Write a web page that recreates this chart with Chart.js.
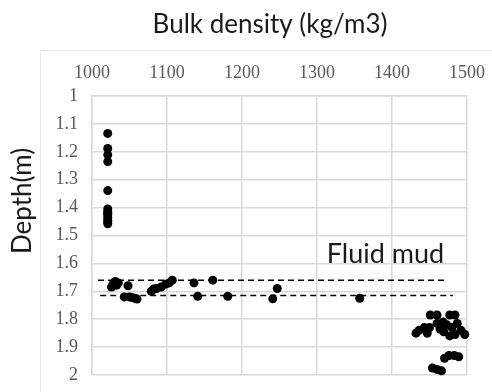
<!DOCTYPE html>
<html>
<head>
<meta charset="utf-8">
<script src="https://cdn.jsdelivr.net/npm/chart.js@4/dist/chart.umd.min.js"></script>
<style>
html,body{margin:0;padding:0;background:#fff;}
#c{display:block;}
</style>
</head>
<body>
<canvas id="c" width="492" height="392"></canvas>
<script>
// ---- data ----
const chartTitle = 'Bulk density (kg/m3)';
const yTitle = 'Depth(m)';
const annotationText = 'Fluid mud';
const densityTicks = ['1000','1100','1200','1300','1400','1500'];
const depthTicks = ['1','1.1','1.2','1.3','1.4','1.5','1.6','1.7','1.8','1.9','2'];

const densities = [
  1021,1021,1021,1021,1021,1021,1021,1021,1021,1021,1021,1021,1021,
  1026,1031,1035,1028,1033,1048,1043,1050,1053,1057,1060,
  1079,1082,1086,1092,1098,1103,1107,
  1136,1161,1141,1181,1241,1247,1357,
  1451,1460,1477,1484,
  1460,1468,1473,1487,
  1436,1443,1450,1464,1480,1492,
  1432,1447,1469,1477,1484,1497,
  1470,1476,1483,1489,
  1454,1460,1466
];
const depths = [
  1.134,1.188,1.211,1.235,1.339,1.405,1.415,1.425,1.435,1.445,1.452,1.458,1.420,
  1.685,1.665,1.670,1.675,1.678,1.680,1.720,1.720,1.722,1.725,1.728,
  1.700,1.692,1.690,1.685,1.675,1.670,1.660,
  1.670,1.660,1.718,1.718,1.727,1.690,1.725,
  1.785,1.785,1.785,1.785,
  1.815,1.810,1.820,1.815,
  1.840,1.830,1.830,1.835,1.830,1.840,
  1.850,1.850,1.845,1.860,1.855,1.855,
  1.940,1.930,1.930,1.935,
  1.975,1.980,1.985
];
const fluidMudTopX = [1008, 1473];
const fluidMudTopY = [1.66, 1.66];
const fluidMudBottomX = [1011, 1481];
const fluidMudBottomY = [1.715, 1.715];
const labelPos = {x: 1313, y: 1.6};

// ---- build ----
const zip = (xs, ys) => xs.map((x, i) => ({x: x, y: ys[i]}));
const gridColor = '#d9d9d9';
const tickFont = {family: 'Liberation Serif', size: 18};
const sansFamily = 'Lato';

const textPlugin = {
  id: 'texts',
  afterDraw(chart) {
    const ctx = chart.ctx;
    ctx.save();
    ctx.fillStyle = '#1a1a1a';
    ctx.font = '26px ' + sansFamily;
    ctx.textAlign = 'center';
    ctx.textBaseline = 'alphabetic';
    ctx.fillText(chartTitle, 270, 33);
    ctx.save();
    ctx.translate(31, 201);
    ctx.rotate(-Math.PI / 2);
    ctx.fillText(yTitle, 0, 0);
    ctx.restore();
    const xs = chart.scales.x, ys = chart.scales.y;
    ctx.font = '27px ' + sansFamily;
    ctx.textAlign = 'left';
    ctx.fillText(annotationText, xs.getPixelForValue(labelPos.x), ys.getPixelForValue(labelPos.y));
    ctx.restore();
  },
  beforeDraw(chart) {
    const ctx = chart.ctx;
    ctx.save();
    ctx.strokeStyle = '#e6e6e6';
    ctx.lineWidth = 1;
    ctx.beginPath();
    ctx.moveTo(40.5, 392);
    ctx.lineTo(40.5, 50.5);
    ctx.lineTo(492, 50.5);
    ctx.stroke();
    ctx.restore();
  }
};

new Chart(document.getElementById('c'), {
  type: 'scatter',
  data: {
    datasets: [
      {
        data: zip(densities, depths),
        pointRadius: 4.5,
        pointBackgroundColor: '#000',
        pointBorderWidth: 0,
        borderColor: '#000',
        showLine: false,
        clip: false
      },
      {
        data: zip(fluidMudTopX, fluidMudTopY),
        showLine: true,
        pointRadius: 0,
        borderColor: '#000',
        borderWidth: 1.5,
        borderDash: [6, 4]
      },
      {
        data: zip(fluidMudBottomX, fluidMudBottomY),
        showLine: true,
        pointRadius: 0,
        borderColor: '#000',
        borderWidth: 1.5,
        borderDash: [6, 4]
      }
    ]
  },
  options: {
    responsive: false,
    animation: false,
    devicePixelRatio: 1,
    layout: {padding: {left: 0, top: 0, right: 25, bottom: 17}},
    plugins: {legend: {display: false}, tooltip: {enabled: false}, title: {display: false}},
    scales: {
      x: {
        type: 'linear',
        position: 'top',
        min: 1000, max: 1500,
        ticks: {
          stepSize: 100,
          color: '#595959',
          font: tickFont,
          padding: 12,
          callback: (v) => densityTicks[Math.round((v - 1000) / 100)]
        },
        grid: {color: gridColor, lineWidth: 1.5, drawTicks: false},
        border: {color: gridColor, width: 1.5},
        afterFit: (s) => { s.height = 96; s.paddingLeft = 0; s.paddingRight = 0; }
      },
      y: {
        type: 'linear',
        reverse: true,
        min: 1, max: 2,
        ticks: {
          stepSize: 0.1,
          color: '#595959',
          font: tickFont,
          padding: 14,
          callback: (v) => depthTicks[Math.round((v - 1) * 10)]
        },
        grid: {color: gridColor, lineWidth: 1.5, drawTicks: false},
        border: {color: gridColor, width: 1.5},
        afterFit: (s) => { s.width = 92; s.paddingTop = 0; s.paddingBottom = 0; }
      }
    }
  },
  plugins: [textPlugin]
});
</script>
</body>
</html>
